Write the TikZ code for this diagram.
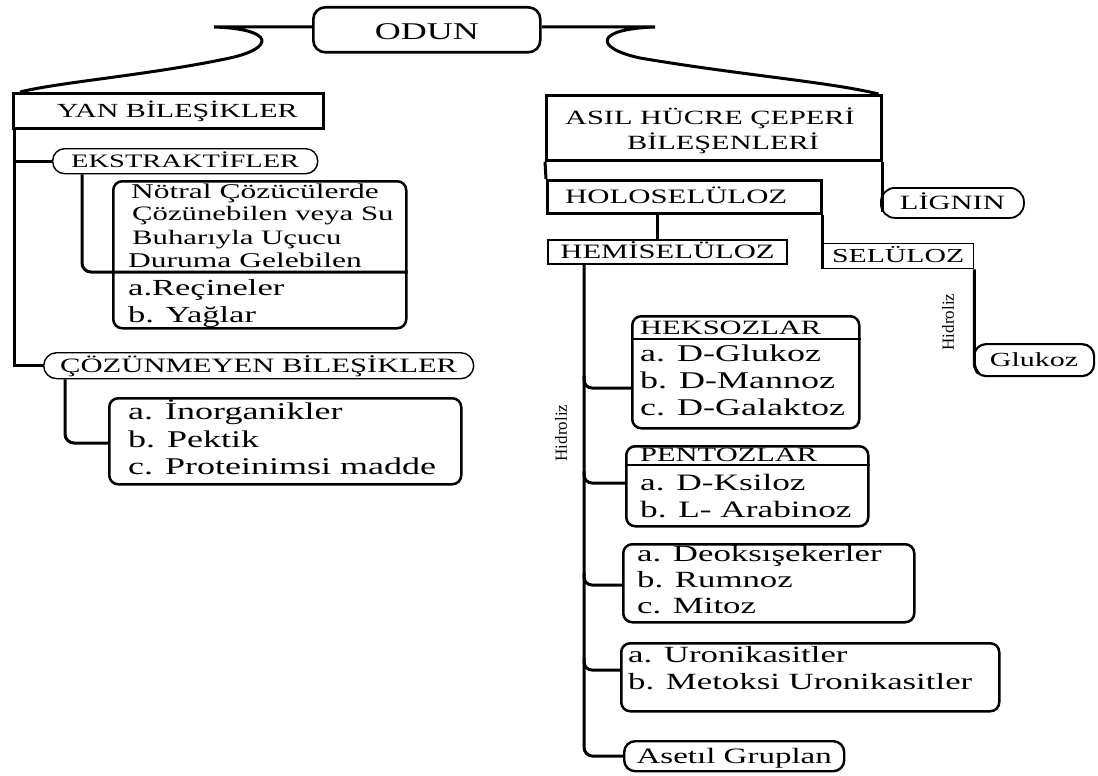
\documentclass[tikz,border=0pt]{standalone}
\usepackage{fontspec}
\setmainfont{Liberation Serif}[FakeStretch=1.5]
\newfontfamily\hfont{Liberation Serif}
\newcommand\fsz[1]{\fontsize{#1}{#1}\selectfont}
\begin{document}
\begin{tikzpicture}[x=1pt,y=-1pt,
  fs/.style={font=\fsz{#1}, text height={0.66*#1pt}, text depth=0pt},
  sqbox/.style={draw, line width=2.5pt, inner sep=0pt, anchor=north west},
  rbox/.style={sqbox, rounded corners=9pt},
  pill/.style={sqbox, line width=1.4pt, rounded corners=12pt},
  conn/.style={line width=3pt},
  divl/.style={line width=1.2pt},
  txt/.style={inner sep=0pt, anchor=west},
  ctxt/.style={inner sep=0pt},
  hid/.style={inner sep=0pt, font=\hfont\fsz{17}, rotate=90}]
\useasboundingbox (0,0) rectangle (1098,776);
\fill[white] (0,0) rectangle (1098,776);

% top
\node[rbox, line width=2.6pt, rounded corners=12pt, minimum width=227pt, minimum height=45pt, fs=24] (odun) at (312,6) {\raisebox{-2pt}{ODUN}};

% left branch
\node[sqbox, minimum width=310pt, minimum height=35pt, fs=20] (yan) at (12,92) {\hspace*{18pt}YAN BİLEŞİKLER};
\node[pill, minimum width=265pt, minimum height=25pt, fs=19] (eks) at (52,148) {EKSTRAKTİFLER};
\node[rbox, minimum width=293pt, minimum height=147pt] (ext) at (112,180) {};
\node[txt, fs=21] (e1) at (131,192) {Nötral Çözücülerde};
\node[txt, fs=20.5] (e2) at (132,214) {Çözünebilen veya Su};
\node[txt, fs=20.5] (e3) at (132,238) {Buharıyla Uçucu};
\node[txt, fs=21] (e4) at (128,261) {Duruma Gelebilen};
\node[txt, fs=23] (e5) at (128,288) {a.Reçineler};
\node[txt, fs=23] (e6) at (128,315) {b. Yağlar};
\node[pill, rounded corners=13pt, minimum width=430pt, minimum height=26pt, fs=20.4] (coz) at (43,352) {ÇÖZÜNMEYEN BİLEŞİKLER};
\node[rbox, minimum width=352pt, minimum height=86pt] (inb) at (108,397) {};
\node[txt, fs=24] (i1) at (128,412) {a. İnorganikler};
\node[txt, fs=24] (i2) at (128,440) {b. Pektik};
\node[txt, fs=24] (i3) at (128,467) {c. Proteinimsi madde};

% right branch
\node[sqbox, minimum width=335pt, minimum height=65pt] (asil) at (545,94) {};
\node[ctxt, fs=20.2] (a1) at (710,118) {ASIL HÜCRE ÇEPERİ};
\node[ctxt, fs=20.2] (a2) at (723,143) {BİLEŞENLERİ};
\node[sqbox, minimum width=274pt, minimum height=33pt, fs=20.5] (holo) at (546,179) {HOLOSELÜLOZ\hspace*{16pt}};
\node[pill, line width=1.8pt, rounded corners=14pt, minimum width=143pt, minimum height=30pt, fs=20.3] (lig) at (880,187) {LİGNIN};
\node[sqbox, line width=2pt, minimum width=239pt, minimum height=24pt, fs=20.4] (hemi) at (547,239) {HEMİSELÜLOZ};
\node[sqbox, line width=1.3pt, minimum width=151pt, minimum height=25pt, fs=19.8] (sel) at (822,243) {SELÜLOZ};
\node[pill, line width=2.2pt, rounded corners=12pt, minimum width=120pt, minimum height=32pt, fs=20] (glu) at (973,343) {Glukoz};

\node[rbox, minimum width=227pt, minimum height=112pt] (hex) at (631,315) {};
\node[txt, fs=20.3] (h0) at (640,328) {HEKSOZLAR};
\node[txt, fs=24] (ha) at (640,354) {a. D-Glukoz};
\node[txt, fs=24] (hb) at (640,381) {b. D-Mannoz};
\node[txt, fs=24] (hc) at (640,408) {c. D-Galaktoz};

\node[rbox, minimum width=242pt, minimum height=80pt] (pen) at (625,445) {};
\node[txt, fs=20.3] (p0) at (640,455) {PENTOZLAR};
\node[txt, fs=23.5] (pa) at (640,483) {a. D-Ksiloz};
\node[txt, fs=23.5] (pb) at (640,510) {b. L- Arabinoz};

\node[rbox, minimum width=291pt, minimum height=78pt] (deo) at (622,543) {};
\node[txt, fs=23.2] (da) at (637,554) {a. Deoksışekerler};
\node[txt, fs=23.2] (db) at (637,580) {b. Rumnoz};
\node[txt, fs=23.2] (dc) at (637,606) {c. Mitoz};

\node[rbox, minimum width=378pt, minimum height=68pt] (uro) at (620,642) {};
\node[txt, fs=23.2] (ua) at (628,655) {a. Uronikasitler};
\node[txt, fs=23.2] (ub) at (628,682) {b. Metoksi Uronikasitler};

\node[pill, line width=2.4pt, rounded corners=11pt, minimum width=220pt, minimum height=30pt, fs=22] (ase) at (623,740) {Asetıl Gruplan};

\node[hid] (hid1) at (561,433) {Hidroliz};
\node[hid] (hid2) at (948,322) {Hidroliz};

% dividers
\draw[divl] (hex.west |- 0,339) -- (hex.east |- 0,339);
\draw[divl] (pen.west |- 0,465) -- (pen.east |- 0,465);

% connectors from ODUN
\coordinate (lk) at (214,27);
\coordinate (rk) at (655,27);
\draw[conn] (odun.west |- lk) -- (lk) .. controls (275,29) and (275,48) .. (230,58)
  .. controls (150,75) and (60,82) .. ([xshift=8pt]yan.north west);
\draw[conn] (odun.east |- rk) -- (rk) .. controls (594,29) and (594,48) .. (640,58)
  .. controls (740,75) and (830,82) .. ([xshift=-4pt]asil.north east);

% left connectors
\coordinate (lt) at ([xshift=2pt]yan.south west);
\draw[conn] (lt) |- (coz.west);
\draw[conn] (eks.west) -- (eks.west -| lt);
\draw[conn, rounded corners=9pt] (eks.south -| 82,0) |- (ext.east |- 0,272);
\draw[conn, rounded corners=9pt] (coz.south -| 65,0) |- (inb.west |- 0,443);

% right connectors
\draw[conn] (asil.south west) -- (holo.north west);
\draw[conn] (asil.south east) -- (asil.south east |- 0,212);
\draw[conn] (holo.south -| 657,0) -- (hemi.north -| 657,0);
\draw[conn] (holo.south east) -- (holo.south east |- sel.south west);
\draw[conn, rounded corners=6pt] (sel.south east) -- (sel.south east |- 0,369) -- ([xshift=2pt]sel.south east |- 0,371);

\coordinate (tx) at (584,0);
\draw[conn, rounded corners=9pt] (hemi.south -| tx) |- (ase.west);
\draw[conn, rounded corners=8pt] (tx |- 0,376) |- (hex.west |- 0,388);
\draw[conn, rounded corners=8pt] (tx |- 0,471) |- (pen.west |- 0,483);
\draw[conn, rounded corners=8pt] (tx |- 0,573) |- (deo.west |- 0,585);
\draw[conn, rounded corners=8pt] (tx |- 0,658) |- (uro.west |- 0,670);
\end{tikzpicture}
\end{document}
